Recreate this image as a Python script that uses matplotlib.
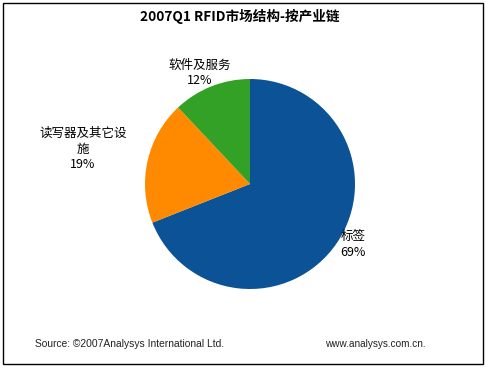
import matplotlib
matplotlib.use('Agg')
import matplotlib.pyplot as plt
from matplotlib.patches import Rectangle

plt.rcParams['font.family'] = ['Noto Sans CJK SC', 'DejaVu Sans']

# data
categories = ['标签', '读写器及其它设\n施', '软件及服务']
shares = [69, 19, 12]
colors = ['#0C5296', '#FF8A00', '#33A125']

W, H = 486, 370
fig = plt.figure(figsize=(W / 100, H / 100), dpi=100)
ax = fig.add_axes([0, 0, 1, 1])

# pie (y axis inverted -> counterclock True gives clockwise on screen)
ax.pie(shares, colors=colors, startangle=-90, counterclock=True,
       center=(250, 184), radius=105, frame=True,
       wedgeprops=dict(linewidth=0))
ax.set_xlim(0, W)
ax.set_ylim(H, 0)
ax.axis('off')

# outer frame
ax.add_patch(Rectangle((3, 3), 480, 361, fill=False, edgecolor='black', linewidth=1.0))

ax.text(240, 16, '2007Q1 RFID市场结构-按产业链', ha='center', va='center',
        fontsize=9.8, fontweight='bold')

lab_pos = [(353, 244), (83, 149), (200, 73)]
for cat, val, (x, y) in zip(categories, shares, lab_pos):
    ax.text(x, y, f'{cat}\n{val}%', ha='center', va='center', fontsize=9,
            linespacing=1.3)

ax.text(35, 344, 'Source: ©2007Analysys International Ltd.', ha='left', va='center',
        fontsize=7.4, family=['Liberation Sans'], color='#222222')
ax.text(325, 344, 'www.analysys.com.cn.', ha='left', va='center',
        fontsize=7.2, family=['Liberation Sans'], color='#222222')

fig.savefig('out.png', dpi=100, facecolor='white')
